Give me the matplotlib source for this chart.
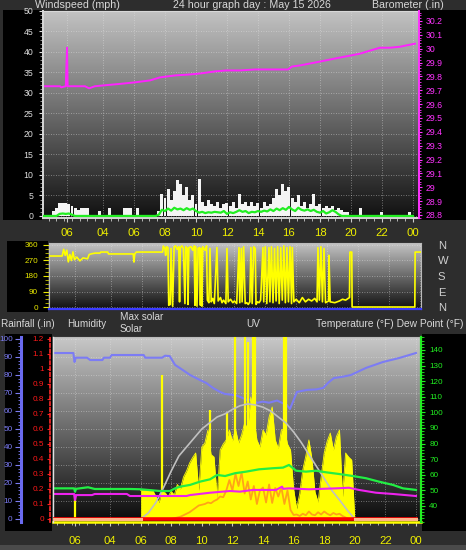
import numpy as np
import matplotlib
matplotlib.use("Agg")
import matplotlib.pyplot as plt
from matplotlib import font_manager
from matplotlib.patches import Rectangle
from matplotlib.colors import LinearSegmentedColormap
from matplotlib.ticker import MultipleLocator, FuncFormatter


def have_font(name):
    try:
        font_manager.findfont(name, fallback_to_default=False)
        return True
    except Exception:
        return False


narrow = [f for f in ['Liberation Sans Narrow', 'DejaVu Sans Condensed'] if have_font(f)]
plt.rcParams['font.family'] = narrow + ['Liberation Sans', 'DejaVu Sans']
SCALE = 1.0 if narrow else 0.9

W, H = 466, 550

# x axis (hours of the day) and its odd labels
tick_hours = [1.7, 4, 6, 8, 10, 12, 14, 16, 18, 20, 22, 24]
tick_labels = ['06', '04', '06', '08', '10', '12', '14', '16', '18', '20', '22', '00']

# barometer (inHg)
baro_hours = [0.26, 1.23, 1.3, 1.6, 1.68, 1.72, 1.87, 2.84, 3.1, 3.48, 4.13, 5.1, 6.06, 7.03,
              7.68, 8.65, 9.61, 10.26, 11.23, 11.94, 12.84, 13.81, 15.1, 15.94, 16.19, 16.71,
              17.35, 18.0, 18.97, 19.94, 20.58, 21.23, 21.87, 22.52, 23.16, 23.81, 24.13]
baro_in = [29.729, 29.729, 29.721, 29.729, 30.007, 29.729, 29.729, 29.729, 29.714, 29.729,
           29.736, 29.746, 29.757, 29.771, 29.793, 29.807, 29.814, 29.821, 29.836, 29.843,
           29.843, 29.85, 29.85, 29.85, 29.871, 29.879, 29.893, 29.907, 29.929, 29.95,
           29.964, 29.986, 30.007, 30.007, 30.014, 30.029, 30.036]

# wind, sampled every 0.2 h starting 0.2 h
wind_start, wind_step = 0.2, 0.2
gust_mph = [0, 0, 0, 1.2, 2,  3.2, 3.2, 3.2, 3.0, 2.5,  2, 1.5, 2, 2, 2,  0, 0, 0, 1.2, 0,
            0, 2, 0, 0, 0,  0, 2, 2, 2, 0,  2, 0, 0, 0, 0,  0, 0, 1.2, 5.4, 4.5,
            6.6, 4, 6, 8.8, 7.8,  5, 7, 4, 5, 3,  9, 3.5, 2.5, 4, 3,  2.5, 3.5, 2, 3, 3.2,
            2.5, 3.5, 2, 5.4, 3,  3.5, 2.5, 3.5, 2.5, 3.2,  2, 3.5, 2.5, 3, 4.5,
            6.6, 5, 7.8, 6, 7,  4.5, 3.5, 5, 2.5, 3.5,  2, 3, 5.4, 2.5, 3,
            2, 2.5, 2, 2.5, 1.5,  2, 1.5, 1, 1, 0,  0, 0, 2, 0, 0,  0, 0, 0, 0, 1,
            0, 0, 0, 0, 0,  0, 0, 0, 1, 0]
wind_avg_mph = [0, 0, 0, 0, 0,  0.5, 0.6, 0.5, 0.6, 0.3,  0, 0, 0, 0, 0,  0, 0, 0, 0, 0,
                0, 0, 0, 0, 0,  0, 0, 0, 0, 0,  0, 0, 0, 0, 0,  0, 0, 0.3, 1.5, 1.2,
                1.8, 1.3, 2.0, 1.6, 1.8,  1.4, 1.9, 1.5, 1.8, 1.2,  0.8, 1.0, 0.7, 0.9, 0.8,
                1.0, 0.9, 0.8, 1.2, 0.5,  0.9, 0.7, 1.0, 1.4, 1.0,  1.2, 0.7, 1.0, 0.9, 1.2,
                1.0, 1.3, 1.1, 1.6, 1.2,  1.8, 1.4, 1.9, 1.5, 2.2,  1.6, 1.2, 2.0, 1.5, 1.3,
                1.6, 1.2, 1.5, 1.0, 0.8,  1.2, 0.6, 0.9, 1.4, 1.0,  0.4, 0, 0, 0, 0,
                0, 0, 0, 0, 0,  0, 0, 0, 0, 0,  0, 0, 0, 0, 0,  0, 0, 0, 0, 0]

# wind direction (degrees)
dir_hours = [0.0, 0.85, 0.95, 1.05, 1.15, 1.25, 1.35, 1.45, 1.55, 1.65,
             1.8, 2.0, 2.2, 2.5, 2.6, 2.8, 3.0, 3.3, 3.35, 3.8,
             3.85, 5.45, 5.5, 5.55, 5.65, 7.35, 7.4, 7.5, 7.55, 7.6,
             7.7, 7.75, 7.85, 7.9, 8.0, 8.1, 8.2, 8.3, 8.4, 8.45,
             8.5, 8.6, 8.7, 8.8, 8.85, 8.95, 9.0, 9.05, 9.2, 9.3,
             9.4, 9.45, 9.5, 9.58, 9.65, 9.75, 9.8, 9.85, 9.9, 9.95,
             10.1, 10.2, 10.25, 10.35, 10.42, 10.5, 10.6, 10.7, 10.87, 10.95,
             11.1, 11.2, 11.3, 11.45, 11.52, 11.6, 11.75, 11.9, 12.0, 12.15,
             12.3, 12.35, 12.45, 12.5, 12.6, 12.7, 12.8, 12.9, 13.0, 13.07,
             13.15, 13.25, 13.35, 13.4, 13.5, 13.6, 13.7, 13.85, 13.9, 14.0,
             14.1, 14.24, 14.3, 14.4, 14.5, 14.6, 14.7, 14.8, 14.9, 15.0,
             15.1, 15.2, 15.3, 15.4, 15.5, 15.6, 15.7, 15.75, 15.85, 16.0,
             16.2, 16.4, 16.6, 16.8, 17.0, 17.2, 17.35, 17.41, 17.5, 17.6,
             17.7, 17.8, 17.9, 18.1, 18.12, 18.2, 18.5, 18.8, 19.0, 19.2,
             19.45, 19.48, 19.6, 19.62, 23.68, 23.7, 24.1]
dir_deg = [296, 296, 335, 300, 330, 262, 305, 270, 320, 275,
           290, 268, 285, 280, 305, 310, 313, 313, 319, 319,
           308, 308, 261, 308, 319, 319, 354, 340, 300, 350,
           345, 10, 15, 340, 5, 350, 355, 335, 350, 30,
           345, 355, 340, 20, 350, 340, 15, 345, 350, 330,
           355, 10, 350, 5, 340, 345, 10, 340, 5, 350,
           330, 355, 40, 25, 340, 30, 50, 20, 345, 35,
           55, 25, 40, 20, 340, 30, 45, 25, 35, 20,
           345, 25, 340, 30, 350, 20, 25, 15, 30, 345,
           20, 350, 340, 15, 30, 25, 40, 345, 30, 350,
           20, 345, 30, 350, 25, 340, 35, 350, 20, 345,
           40, 355, 25, 345, 30, 350, 20, 345, 30, 45,
           25, 55, 30, 45, 35, 50, 30, 345, 40, 350,
           30, 340, 25, 35, 300, 30, 25, 35, 45, 40,
           55, 319, 319, 0, 0, 319, 319]

# humidity (%)
hum_hours = [0.27, 1.6, 1.68, 1.75, 2.5, 2.7, 3.5, 3.6, 4.0, 4.1, 6.2, 6.3, 7.4, 7.6, 7.9,
             8.25, 8.8, 9.23, 9.88, 10.3, 10.73, 11.19, 11.5, 11.97, 12.3, 12.6, 12.95,
             13.3, 13.6, 14.0, 14.4, 14.92, 15.3, 15.57, 15.76, 16.22, 16.88, 17.5, 17.93,
             18.3, 18.64, 19.2, 19.75, 20.73, 21.84, 22.89, 24.0]
hum_pct = [92.2, 92.2, 87.2, 89.6, 89.6, 88.3, 88.3, 89.6, 89.6, 91.1, 91.1, 89.6, 89.6,
           90.7, 90.5, 85.6, 82.5, 80, 77.2, 75.5, 72.8, 70.6, 69.5, 69, 68.5, 67.5, 66.1,
           66.5, 64.5, 65.2, 64.6, 65.8, 64.3, 63.3, 61.1, 70.6, 71.7, 72.0, 72.8,
           76, 78.3, 79, 80, 83.9, 87.2, 89.4, 92.2]

# temperature and dew point (F)
temp_hours = [0.27, 1.65, 1.71, 1.78, 2.56, 3.0, 5.3, 6.0, 7.27, 7.92, 8.25, 8.58, 9.23,
              9.88, 10.54, 11.0, 11.52, 12.17, 12.89, 13.74, 14.65, 15.31, 15.7, 16.16,
              16.81, 17.46, 18.12, 18.97, 19.88, 20.73, 21.58, 22.5, 23.15, 24.0]
temp_f = [51.3, 51.3, 49.2, 51.0, 52.0, 50.9, 50.9, 50.7, 49.6, 49.6, 51.3, 52.4, 53.5,
          55.6, 57.1, 59.9, 59.2, 61, 62, 63.5, 64.2, 64.6, 66.3, 62.6,
          62, 62.6, 61.6, 60.5, 59.2, 57.8, 55.6, 53.5, 51.3, 50.3]
dew_hours = [0.27, 1.65, 1.71, 1.78, 2.82, 3.0, 5.1, 5.3, 9.0, 9.23, 10.54, 11.84, 12.5,
             13.35, 14.85, 15.25, 15.31, 15.7, 17.0, 18.77, 19.62, 20.27, 21.39, 22.5, 24.0]
dew_f = [47.7, 47.7, 43.8, 47.0, 47.0, 47.7, 47.7, 46.4, 46.4, 47, 48.5, 49.6, 49.2,
         50.3, 50.3, 52.4, 51.0, 51.3, 50.7, 51.3, 51.7, 50.3, 48.5, 47.7, 46.4]

# solar radiation (W/m2), every 0.2 h from 6.0 h
solar_start, solar_step = 6.0, 0.2
solar_wm2 = [190, 190, 190, 193, 190,  150, 110, 190, 175, 150,  185, 160, 230, 200, 280,
             320, 373, 410, 440, 190,  480, 507, 593, 430, 413,  140, 460, 500, 527, 593,
             520, 600, 507, 560, 640,  600, 813, 680, 527, 480,  593, 560, 680, 747, 527,
             470, 593, 600, 500, 460,  200, 70, 170, 327, 420,  527, 400, 180, 113, 280,
             440, 520, 573, 460, 550,  593, 150, 440, 413, 393,  0]
spike_hours = [1.71, 7.4, 10.54, 11.65, 12.17, 12.81, 13.0, 13.35, 13.45, 15.35, 15.5]
spike_wm2 = [160, 960, 727, 707, 1250, 1250, 1180, 1250, 1250, 1250, 1250]

# max solar (W/m2), every 0.5 h from 6.0 h
maxsolar_start, maxsolar_step = 6.0, 0.5
maxsolar_wm2 = [0, 40, 110, 210, 320, 420, 480, 540, 600, 640, 680, 700, 730, 755, 767,
                760, 745, 720, 680, 640, 580, 510, 430, 350, 270, 190, 127, 60, 0]

# UV index, every 0.2 h from 8.0 h
uv_start, uv_step = 8.0, 0.2
uv_index = [0, 0.05, 0.1, 0.15, 0.25,  0.35, 0.45, 0.6, 0.75, 0.9,  0.95, 1.0, 1.1, 1.05, 1.2,
            1.3, 1.5, 1.45, 1.9, 2.6,  1.9, 3.0, 2.2, 3.1, 1.7,  2.5, 1.3, 2.2, 1.0, 1.9,
            2.1, 1.1, 2.3, 1.07, 2.07,  1.5, 2.1, 1.0, 1.9, 0.6,  0.27, 0.3, 0.2, 0.35, 0.25,
            0.5, 0.3, 0.25, 0.45, 0.3,  0.5, 0.35, 0.25, 0.4, 0.3,  0.35, 0.2, 0.1, 0]

# rainfall (in)
rain_hours = [0.27, 24.0]
rain_in = [0.0, 0.0]

BG = '#2d2d2d'
fig = plt.figure(figsize=(W / 100, H / 100), dpi=100, facecolor=BG)


def px_axes(left, top, right, bottom):
    return fig.add_axes([left / W, 1 - bottom / H, (right - left) / W, (bottom - top) / H])


def black_box(left, top, right, bottom, color='black'):
    fig.add_artist(Rectangle((left / W, 1 - bottom / H), (right - left) / W, (bottom - top) / H,
                             transform=fig.transFigure, facecolor=color, edgecolor='none', zorder=-5))


def shade(ax, top, bottom):
    cmap = LinearSegmentedColormap.from_list('bg', [bottom, top])
    ax.imshow(np.linspace(1, 0, 256).reshape(-1, 1), cmap=cmap, aspect='auto',
              extent=(0, 1, 0, 1), transform=ax.transAxes, zorder=0, interpolation='bilinear')


def figtext(x, y, s, size=8.5, **kw):
    kw.setdefault('color', '#d8d8d8')
    fig.text(x / W, 1 - y / H, s, va='center', fontsize=size * SCALE, **kw)


num_fmt = FuncFormatter(lambda v, p: '%g' % round(v, 2))
grid_kw = dict(color='#e8e8e8', lw=0.6, ls=(0, (1, 2)), alpha=0.55)
TS = 6.5 * SCALE   # small tick labels

# background boxes
black_box(3, 10, 42, 220)
black_box(420, 10, 466, 220)
black_box(7, 241, 48, 312)
black_box(5, 334, 52, 531)
black_box(422, 334, 466, 531)
black_box(0, 545, 466, 550, '#4a4a4a')

# ---------------- panel 1: wind + barometer ----------------
ax1 = px_axes(43, 11, 419, 218)
shade(ax1, '#c2c2c2', '#111111')
wind_hours = wind_start + wind_step * np.arange(len(gust_mph))
ax1.bar(wind_hours, gust_mph, width=0.19, color='#f4f4f4', zorder=2)
ax1.plot(wind_hours, wind_avg_mph, color='#22ee22', lw=1.6, zorder=3)
ax1.set_xlim(0.13, 24.39)
ax1.set_ylim(-0.5, 50)
ax1.set_axisbelow(True)
ax1.set_xticks(tick_hours)
ax1.set_xticklabels(tick_labels)
ax1.xaxis.set_minor_locator(MultipleLocator(0.5))
ax1.yaxis.set_major_locator(MultipleLocator(5))
ax1.yaxis.set_minor_locator(MultipleLocator(1))
ax1.grid(True, which='major', **grid_kw)
ax1.tick_params(axis='x', which='major', colors='#cccccc', labelcolor='#f0f000', labelsize=9 * SCALE,
                length=3, pad=4)
ax1.tick_params(axis='x', which='minor', colors='#cccccc', length=2)
ax1.tick_params(axis='y', which='major', colors='#dddddd', labelsize=7 * SCALE, length=3, pad=4)
ax1.tick_params(axis='y', which='minor', colors='#aaaaaa', length=2)
for s in ['left', 'bottom', 'top']:
    ax1.spines[s].set_color('#d8d8d8')
ax1.spines['left'].set_linewidth(1.4)
ax1.spines['bottom'].set_linewidth(1.4)

ax1b = ax1.twinx()
ax1b.plot(baro_hours, baro_in, color='#ff22ff', lw=1.4, zorder=4)
ax1b.set_ylim(28.778, 30.272)
ax1b.yaxis.set_major_locator(MultipleLocator(0.1))
ax1b.yaxis.set_minor_locator(MultipleLocator(0.02))
ax1b.yaxis.set_major_formatter(num_fmt)
ax1b.tick_params(axis='y', which='major', colors='#ff33ff', labelsize=7 * SCALE, length=2, pad=3)
ax1b.tick_params(axis='y', which='minor', colors='#ff33ff', length=1.5)
ax1b.spines['right'].set_color('#ff33ff')
ax1b.spines['right'].set_linewidth(1.4)
for s in ['left', 'bottom', 'top']:
    ax1b.spines[s].set_visible(False)

# ---------------- panel 2: wind direction ----------------
ax2 = px_axes(49, 243, 421, 309)
shade(ax2, '#c4c4c4', '#101010')
ax2.plot(dir_hours, dir_deg, color='#ffff00', lw=1.2, zorder=3)
ax2.set_xlim(0, 24.08)
ax2.set_ylim(-11.6, 371.6)
ax2.set_axisbelow(True)
ax2.set_xticks(tick_hours)
ax2.set_yticks([0, 90, 180, 270, 360])
ax2.yaxis.set_minor_locator(MultipleLocator(22.5))
ax2.grid(True, which='major', **grid_kw)
ax2.tick_params(axis='x', length=0, labelbottom=False)
ax2.tick_params(axis='y', which='major', colors='#e8e800', labelsize=TS, length=4, pad=4)
ax2.tick_params(axis='y', which='minor', colors='#c8c800', length=3)
for s in ['left', 'top', 'right']:
    ax2.spines[s].set_color('#bbbbbb')
    ax2.spines[s].set_linewidth(0.8)
ax2.spines['bottom'].set_color('#3c3cff')
ax2.spines['bottom'].set_linewidth(1.6)

ax2r = ax2.twinx()
ax2r.set_ylim(-11.6, 371.6)
ax2r.set_yticks([0, 90, 180, 270, 360])
ax2r.set_yticklabels(['N', 'E', 'S', 'W', 'N'])
ax2r.tick_params(axis='y', length=0, pad=12, labelsize=9 * SCALE, labelcolor='#d0d0d0')
for s in ax2r.spines.values():
    s.set_visible(False)

# ---------------- panel 3: humidity, solar, UV, temperature, rain ----------------
ax3 = px_axes(53, 337, 421, 522)
shade(ax3, '#c8c8c8', '#0a0a0a')
ax3.plot(hum_hours, hum_pct, color='#7c7cf4', lw=1.5, zorder=3)
ax3.set_xlim(0.27, 24.33)
ax3.set_ylim(-1.67, 101.1)
ax3.set_axisbelow(True)
ax3.set_xticks(tick_hours)
ax3.set_xticklabels(tick_labels)
ax3.xaxis.set_minor_locator(MultipleLocator(0.5))
ax3.yaxis.set_major_locator(MultipleLocator(10))
ax3.yaxis.set_minor_locator(MultipleLocator(2))
ax3.grid(True, which='major', **grid_kw)
ax3.tick_params(axis='x', which='major', colors='#cccccc', labelcolor='#f0f000', labelsize=9 * SCALE,
                length=3, pad=7)
ax3.tick_params(axis='x', which='minor', colors='#cccccc', length=2)
ax3.tick_params(axis='y', which='major', colors='#7c7cf4', labelsize=TS, length=4, pad=2)
ax3.tick_params(axis='y', which='minor', colors='#7c7cf4', length=2.5)
ax3.spines['left'].set_position(('outward', 23))
ax3.spines['left'].set_color('#6a6af0')
ax3.spines['left'].set_linewidth(2.2)
ax3.spines['bottom'].set_color('#ffff00')
ax3.spines['bottom'].set_linewidth(1.8)
ax3.spines['top'].set_color('#bbbbbb')
ax3.spines['right'].set_visible(False)

ax_sol = ax3.twinx()
solar_hours = solar_start + solar_step * np.arange(len(solar_wm2))
maxsolar_hours = maxsolar_start + maxsolar_step * np.arange(len(maxsolar_wm2))
ax_sol.fill_between(solar_hours, 0, solar_wm2, color='#ffff00', lw=0, zorder=2)
ax_sol.plot(solar_hours, solar_wm2, color='#ffff00', lw=0.6, zorder=2)
ax_sol.vlines(spike_hours, 0, spike_wm2, color='#ffff00', lw=1.6, zorder=2)
ax_sol.plot(maxsolar_hours, maxsolar_wm2, color='#c0c0c0', lw=1.2, zorder=3)
ax_sol.set_ylim(-20, 1213)
ax_sol.set_axis_off()

ax_uv = ax3.twinx()
uv_hours = uv_start + uv_step * np.arange(len(uv_index))
ax_uv.plot(uv_hours, uv_index, color='#ff9a1a', lw=1.3, alpha=0.9)
ax_uv.set_ylim(-0.2, 12.13)
ax_uv.set_axis_off()

ax_t = ax3.twinx()
ax_t.plot(temp_hours, temp_f, color='#22ee44', lw=1.6)
ax_t.plot(dew_hours, dew_f, color='#ee22ee', lw=1.5)
ax_t.set_ylim(29.74, 148.3)
ax_t.yaxis.set_minor_locator(MultipleLocator(2))
ax_t.set_yticks([40, 50, 60, 70, 80, 90, 100, 110, 120, 130, 140])
ax_t.tick_params(axis='y', which='major', colors='#22ee22', labelsize=TS, length=3, pad=3)
ax_t.tick_params(axis='y', which='minor', colors='#22ee22', length=2)
ax_t.spines['right'].set_color('#22ee22')
ax_t.spines['right'].set_linewidth(1.6)
ax_t.spines['left'].set_color('#e0e0e0')
ax_t.spines['left'].set_linewidth(1.0)
ax_t.spines['top'].set_visible(False)
ax_t.spines['bottom'].set_visible(False)

ax_r = ax3.twinx()
ax_r.plot(rain_hours, rain_in, color='#ff0000', lw=2.6)
ax_r.plot([rain_hours[0], solar_hours[0]], [rain_in[0], rain_in[0]], color='#ffb48a', lw=2.2)
ax_r.plot([solar_hours[-1], rain_hours[-1]], [rain_in[-1], rain_in[-1]], color='#ffb48a', lw=2.2)
ax_r.set_ylim(-0.02, 1.213)
ax_r.yaxis.tick_left()
ax_r.yaxis.set_major_locator(MultipleLocator(0.1))
ax_r.yaxis.set_major_formatter(num_fmt)
ax_r.tick_params(axis='y', colors='#ff1a1a', labelsize=TS, length=2.5, pad=2)
ax_r.spines['left'].set_visible(True)
ax_r.spines['left'].set_position(('outward', 2))
ax_r.spines['left'].set_color('#ff2a2a')
ax_r.spines['left'].set_linestyle((0, (2, 1.5)))
ax_r.spines['left'].set_linewidth(1.2)
for s in ['right', 'top', 'bottom']:
    ax_r.spines[s].set_visible(False)

# ---------------- header texts ----------------
figtext(35, 5, 'Windspeed (mph)')
figtext(173, 5, '24 hour graph day : May 15 2026')
figtext(372, 5, 'Barometer (.in)')
figtext(1, 324, 'Rainfall (.in)', size=8)
figtext(67, 324, 'Humidity', size=8)
figtext(120, 317, 'Max solar', size=8)
figtext(120, 329, 'Solar', size=8)
figtext(246, 324, 'UV', size=8)
figtext(463, 324, 'Temperature (°F) Dew Point (°F)', size=8.2, ha='right')

fig.savefig('out.png', dpi=100, facecolor=BG)
